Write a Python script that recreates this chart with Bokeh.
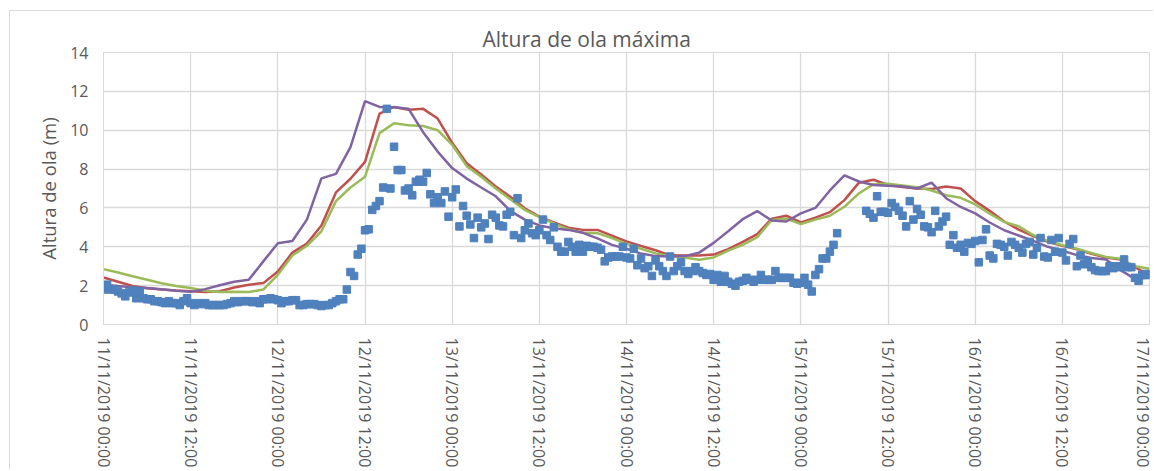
import math
import numpy as np
from bokeh.plotting import figure
from bokeh.models import Range1d, FixedTicker, ColumnDataSource
from bokeh.embed import file_html
from bokeh.resources import INLINE

title_text = "Altura de ola máxima"
y_label = "Altura de ola (m)"

tick_labels = ["11/11/2019 00:00", "11/11/2019 12:00", "12/11/2019 00:00", "12/11/2019 12:00",
               "13/11/2019 00:00", "13/11/2019 12:00", "14/11/2019 00:00", "14/11/2019 12:00",
               "15/11/2019 00:00", "15/11/2019 12:00", "16/11/2019 00:00", "16/11/2019 12:00",
               "17/11/2019 00:00"]
tick_hours = [0, 12, 24, 36, 48, 60, 72, 84, 96, 108, 120, 132, 144]
y_ticks = [0, 2, 4, 6, 8, 10, 12, 14]

nan = float("nan")
# observed (half-hourly), metres
obs = [1.8, 2.05, 1.8, 1.8, 1.7, 1.6, 1.45, 1.65, 1.75, 1.35,
       1.7, 1.35, 1.3, 1.3, 1.2, 1.2, 1.15, 1.1, 1.2, 1.1,
       1.1, 1.0, 1.2, 1.35, 1.1, 1.0, 1.1, 1.05, 1.1, 1.0,
       1.0, 1.0, 1.0, 1.0, 1.05, 1.1, 1.2, 1.15, 1.2, 1.2,
       1.2, 1.15, 1.2, 1.1, 1.3, 1.3, 1.35, 1.3, 1.25, 1.1,
       1.2, 1.2, 1.25, 1.25, 1.0, 1.0, 1.05, 1.05, 1.05, 1.0,
       0.95, 1.0, 1.0, 1.1, 1.2, 1.3, 1.3, 1.8, 2.7, 2.5,
       3.6, 3.9, 4.85, 4.9, 5.9, 6.1, 6.35, 7.05, 11.1, 7.0,
       9.15, 7.95, 7.95, 6.9, 7.0, 6.65, 7.35, 7.45, 7.35, 7.8,
       6.7, 6.25, 6.55, 6.25, 6.85, 5.55, 6.55, 6.95, 5.05, 6.1,
       5.6, 5.15, 4.45, 5.5, 5.0, 5.2, 4.4, 5.65, 5.5, 5.1,
       5.05, 5.65, 5.8, 4.6, 6.5, 4.45, 4.85, 5.2, 4.7, 4.6,
       4.85, 5.4, 4.6, 4.35, 5.0, 4.0, 3.75, 3.75, 4.25, 4.0,
       3.75, 4.1, 3.75, 4.05, 4.0, 4.0, 3.95, 3.85, 3.25, 3.45,
       3.5, 3.5, 3.5, 4.0, 3.45, 3.4, 3.9, 3.05, 3.4, 2.9,
       3.0, 2.5, 3.3, 3.0, 2.75, 2.5, 3.5, 2.75, 3.0, 3.2,
       2.75, 2.6, 2.75, 2.95, 2.75, 2.65, 2.55, 2.6, 2.3, 2.55,
       2.2, 2.5, 2.2, 2.1, 2.0, 2.2, 2.25, 2.4, 2.3, 2.2,
       2.3, 2.55, 2.3, 2.3, 2.3, 2.75, 2.4, 2.4, 2.4, 2.4,
       2.15, 2.1, 2.15, 2.4, 2.05, 1.7, 2.55, 2.85, 3.4, 3.4,
       3.75, 4.1, 4.7, nan, nan, nan, nan, nan, nan, nan,
       5.85, 5.7, 5.5, 6.6, 5.8, 5.8, 5.75, 6.25, 6.05, 5.85,
       5.6, 5.05, 6.35, 5.4, 5.95, 5.65, 5.05, 5.0, 4.75, 5.85,
       5.05, 5.3, 5.55, 4.1, 4.6, 3.95, 4.1, 3.75, 4.2, 4.15,
       4.3, 3.2, 4.35, 4.9, 3.55, 3.4, 4.15, 4.1, 4.0, 3.55,
       4.25, 4.1, 3.95, 3.7, 4.15, 4.25, 3.6, 3.95, 4.45, 3.5,
       3.45, 4.35, 3.75, 4.45, 3.7, 3.3, 4.15, 4.4, 3.0, 3.55,
       3.1, 3.25, 2.95, 2.8, 2.75, 2.75, 2.75, 3.0, 2.9, 3.0,
       2.95, 3.35, 2.95, 2.95, 2.4, 2.25, 2.55, 2.6, 2.55]
obs_step_h = 0.5

# model series (every 2 h), metres
model_purple = [2.05, 1.98, 1.92, 1.88, 1.82, 1.74, 1.68, 1.82, 2.02, 2.2,
                2.3, 3.25, 4.18, 4.3, 5.4, 7.52, 7.75, 9.13, 11.5, 11.2,
                11.18, 11.1, 9.9, 8.9, 8.05, 7.51, 7.05, 6.6, 5.85, 5.4,
                5.1, 4.95, 4.87, 4.72, 4.43, 4.1, 3.9, 3.65, 3.52, 3.5,
                3.52, 3.7, 4.2, 4.8, 5.42, 5.84, 5.35, 5.3, 5.72, 6.0,
                6.9, 7.68, 7.36, 7.18, 7.14, 7.1, 7.0, 7.3, 6.5, 6.05,
                5.72, 5.25, 4.85, 4.58, 4.3, 4.0, 3.8, 3.57, 3.42, 3.35,
                2.8, 2.35, 2.4]
model_red = [2.42, 2.2, 1.98, 1.87, 1.8, 1.75, 1.71, 1.67, 1.71, 1.9,
             2.05, 2.13, 2.73, 3.7, 4.17, 5.1, 6.8, 7.5, 8.37, 10.85,
             11.2, 11.05, 11.1, 10.6, 9.35, 8.3, 7.72, 7.1, 6.58, 5.98,
             5.55, 5.25, 4.98, 4.87, 4.87, 4.57, 4.28, 4.04, 3.82, 3.56,
             3.55, 3.55, 3.6, 3.88, 4.25, 4.65, 5.45, 5.6, 5.25, 5.5,
             5.78, 6.4, 7.3, 7.45, 7.18, 7.08, 7.0, 6.97, 7.1, 7.0,
             6.35, 5.85, 5.3, 4.88, 4.55, 4.26, 4.05, 3.87, 3.64, 3.45,
             3.35, 2.95, 2.53]
model_green = [2.85, 2.68, 2.48, 2.3, 2.12, 1.98, 1.88, 1.74, 1.67, 1.68,
               1.67, 1.8, 2.56, 3.55, 4.05, 4.8, 6.35, 7.05, 7.6, 9.85,
               10.36, 10.26, 10.22, 10.0, 9.25, 8.15, 7.6, 7.0, 6.45, 5.9,
               5.53, 5.2, 4.9, 4.72, 4.7, 4.45, 4.15, 3.9, 3.66, 3.52,
               3.45, 3.33, 3.45, 3.8, 4.1, 4.5, 5.38, 5.45, 5.17, 5.4,
               5.6, 6.06, 6.75, 7.22, 7.24, 7.16, 7.07, 6.9, 6.65, 6.52,
               6.18, 5.7, 5.28, 5.05, 4.6, 4.3, 4.08, 3.9, 3.68, 3.48,
               3.38, 3.0, 2.87]
model_step_h = 2

obs_x = np.arange(len(obs)) * obs_step_h
model_x = np.arange(len(model_red)) * model_step_h

TEXT = "#595959"
GRID = "#d9d9d9"
FONT = "Open Sans"

p = figure(width=1144, height=459,
           x_range=Range1d(0, 144), y_range=Range1d(0, 14),
           output_backend="svg", toolbar_location=None,
           min_border_left=93, min_border_right=5, min_border_top=41, min_border_bottom=145,
           title=title_text)
p.margin = (10, 0, 0, 9)
p.styles = {"border-left": "1px solid #d9d9d9", "border-top": "1px solid #d9d9d9"}
p.background_fill_color = "white"
p.border_fill_color = "white"
p.outline_line_color = GRID

p.title.text_font = FONT
p.title.text_font_size = "21px"
p.title.text_font_style = "normal"
p.title.text_color = TEXT
p.title.align = "left"
p.title.offset = 379
p.title.standoff = 0

p.xaxis.ticker = FixedTicker(ticks=tick_hours)
p.xaxis.major_label_overrides = {h: lab for h, lab in zip(tick_hours, tick_labels)}
p.xaxis.major_label_orientation = -math.pi / 2
p.yaxis.ticker = FixedTicker(ticks=y_ticks)
p.xgrid.ticker = FixedTicker(ticks=tick_hours)
p.ygrid.ticker = FixedTicker(ticks=y_ticks)

for ax in (p.xaxis[0], p.yaxis[0]):
    ax.major_tick_line_color = None
    ax.minor_tick_line_color = None
    ax.major_tick_out = 0
    ax.major_tick_in = 0
    ax.axis_line_color = GRID
    ax.major_label_text_font = FONT
    ax.major_label_text_color = TEXT

p.xaxis.major_label_text_font_size = "16px"
p.xaxis.major_label_standoff = 13
p.yaxis.major_label_text_font_size = "16px"
p.yaxis.major_label_standoff = 15
p.yaxis.axis_label = y_label
p.yaxis.axis_label_text_font = FONT
p.yaxis.axis_label_text_font_size = "18.5px"
p.yaxis.axis_label_text_font_style = "normal"
p.yaxis.axis_label_text_color = TEXT
p.yaxis.axis_label_standoff = 6

p.xgrid.grid_line_color = GRID
p.ygrid.grid_line_color = GRID
p.xgrid.grid_line_width = 1.3
p.ygrid.grid_line_width = 1.3

p.line(model_x, model_red, line_color="#C0504D", line_width=2.5)
p.line(model_x, model_green, line_color="#9BBB59", line_width=2.5)
p.line(model_x, model_purple, line_color="#8064A2", line_width=2.5)

src = ColumnDataSource(data=dict(x=obs_x, y=np.array(obs, dtype=float)))
p.scatter("x", "y", source=src, marker="square", size=7.5,
          fill_color="#4F81BD", line_color="#4F81BD")

open("out.html", "w").write(file_html(p, INLINE))
